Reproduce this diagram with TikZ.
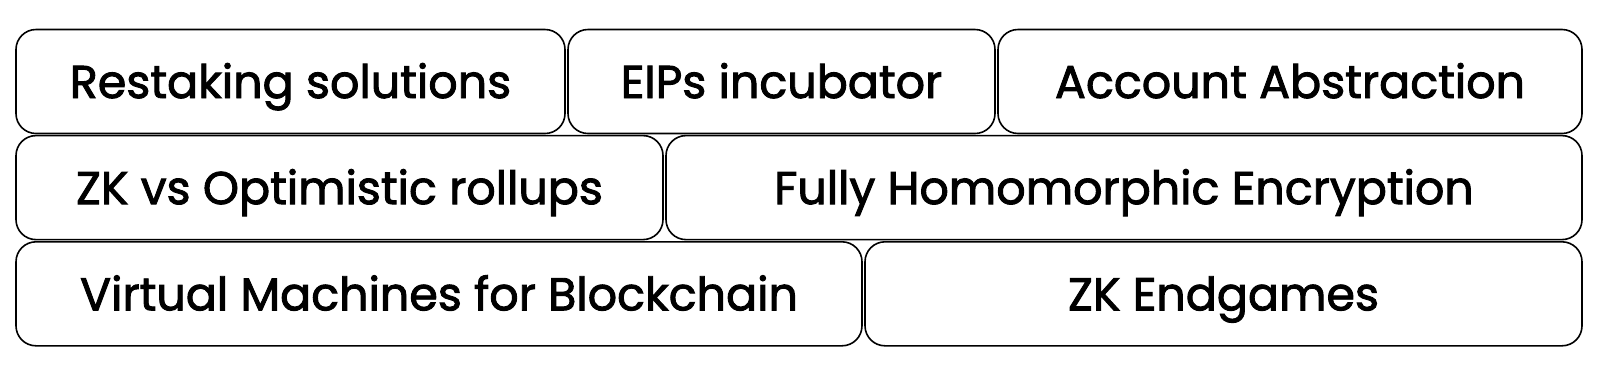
\documentclass[tikz,border=0pt]{standalone}
\usepackage{fontspec}
\setmainfont{Poppins}[FakeBold=2]
\begin{document}
\begin{tikzpicture}[x=1pt,y=-1pt,
  cell/.style={draw=black, line width=1.6pt, rounded corners=20pt, fill=white,
    minimum height=104pt, inner sep=0pt, text height=33pt, text depth=0pt,
    font=\fontsize{46}{50}\selectfont}]
\useasboundingbox (0,0) rectangle (1600,376);
\fill[white] (0,0) rectangle (1600,376);
\node[cell, minimum width=549pt] (rs) at (290.5,81.5) {Restaking solutions};
\node[cell, minimum width=427pt] (eip) at (781.5,81.5) {EIPs incubator};
\node[cell, minimum width=584pt] (aa) at (1290,81.5) {Account Abstraction};
\node[cell, minimum width=647pt] (zk) at (339.5,187.6) {ZK vs Optimistic rollups};
\node[cell, minimum width=916pt] (fhe) at (1124,187.6) {Fully Homomorphic Encryption};
\node[cell, minimum width=846pt] (vm) at (439,293.8) {Virtual Machines for Blockchain};
\node[cell, minimum width=717pt] (zke) at (1223.5,293.8) {ZK Endgames};
\end{tikzpicture}
\end{document}
